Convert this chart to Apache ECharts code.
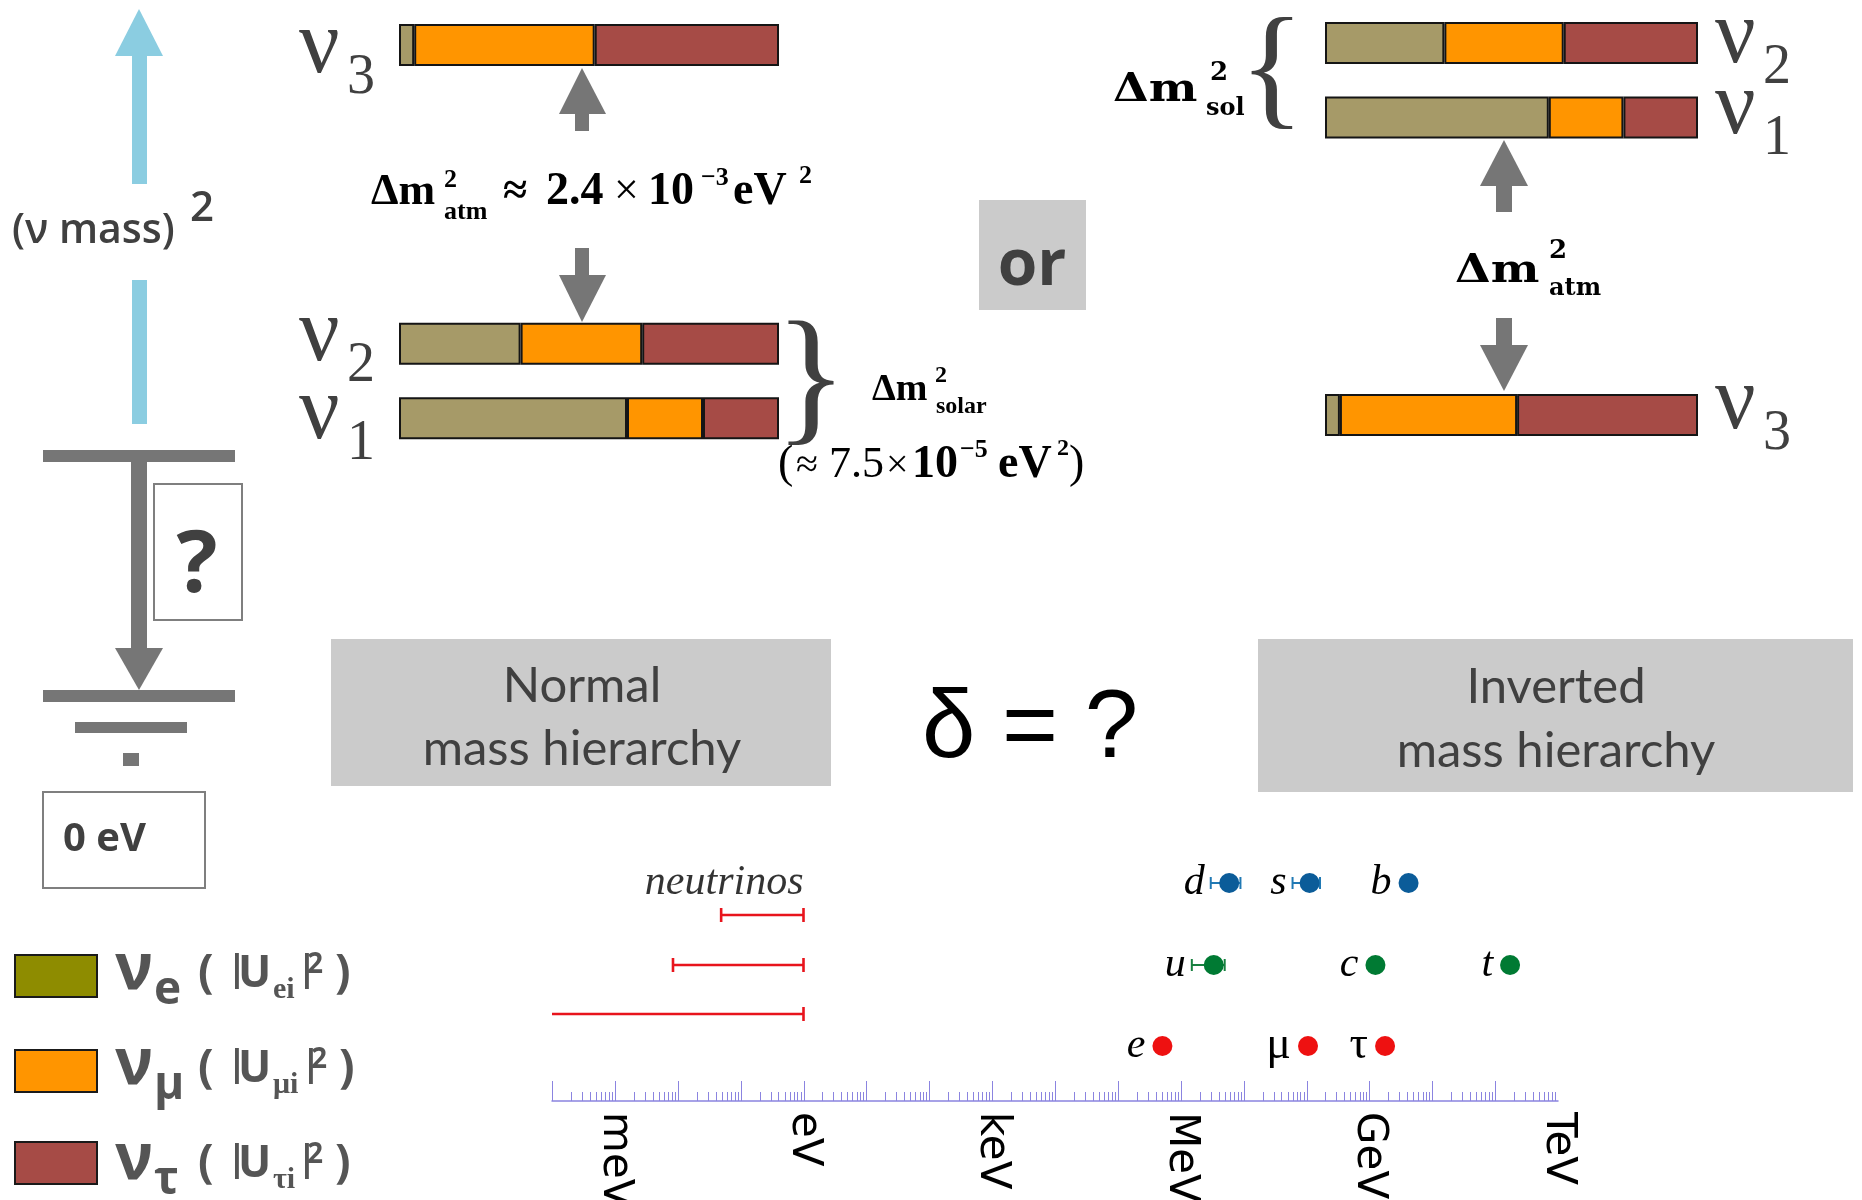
<!DOCTYPE html>
<html><head><meta charset="utf-8">
<script src="https://cdn.jsdelivr.net/npm/echarts@6/dist/echarts.min.js"></script>
<style>html,body{margin:0;padding:0;background:#fff}#c{width:1862px;height:1200px}</style>
</head><body><div id="c"></div>
<script>
// ================= DATA =================
// mixing: |U_fi|^2 for mass states nu1, nu2, nu3
const MASS_STATES = ['ν1', 'ν2', 'ν3'];
const FLAVORS = ['νe', 'νμ', 'ντ'];
const U_E2   = [0.60, 0.32, 0.04];
const U_MU2  = [0.20, 0.32, 0.475];
const U_TAU2 = [0.20, 0.36, 0.485];
// top -> bottom order of mass levels ('' = empty level in the gap)
const NORMAL_ORDER   = ['ν3', '', '', '', 'ν2', 'ν1'];
const INVERTED_ORDER = ['ν2', 'ν1', '', '', '', 'ν3'];

// energy scale (eV): tick labels and tick decades
const UNIT_NAMES = ['meV', 'eV', 'keV', 'MeV', 'GeV', 'TeV'];
const UNIT_EXPONENTS = [-3, 0, 3, 6, 9, 12];
const AXIS_DECADES = [-4, -3, -2, -1, 0, 1, 2, 3, 4, 5, 6, 7, 8, 9, 10, 11];
const MINOR_MULTIPLIERS = [2, 3, 4, 5, 6, 7, 8, 9];

// neutrino mass ranges (eV)
const NU_LOW  = [0.049, 0.0084, 1e-4];
const NU_HIGH = [1, 1, 1];
const NU_ROW  = [7.44, 5.44, 3.48];
const NU_LOW_CAP = [1, 1, 0];

// charged fermion masses (eV)
const PARTICLES     = ['d', 's', 'b', 'u', 'c', 't', 'e', 'μ', 'τ'];
const PARTICLE_MASS = [5.9e6, 1.12e8, 4.2e9, 3.35e6, 1.25e9, 1.73e11, 0.511e6, 1.057e8, 1.777e9];
const PARTICLE_LOW  = [3.0e6, 6.0e7, null, 1.5e6, null, null, null, null, null];
const PARTICLE_HIGH = [8.9e6, 1.64e8, null, 5.0e6, null, null, null, null, null];
const PARTICLE_ROW  = [8.72, 8.72, 8.72, 5.44, 5.44, 5.44, 2.2, 2.2, 2.2];
const PARTICLE_KIND = ['down', 'down', 'down', 'up', 'up', 'up', 'lepton', 'lepton', 'lepton'];

// ================= STYLE =================
const BAR_COLORS = ['#A69A68', '#FF9500', '#A64B46'];
const LEGEND_COLORS = ['#8E8C00', '#FF9500', '#A64B46'];
const DOT_COLOR = {down: '#0B5C99', up: '#007A33', lepton: '#EE1111'};
const ERR_COLOR = {down: '#2079B4', up: '#17803F', lepton: '#EE1111'};
const NU_RED = '#E8141C';
const AXIS_C = '#8B84E0';
const FRACTIONS = [U_E2, U_MU2, U_TAU2];

const K = {'Liberation Serif': 0.263, 'Liberation Sans': 0.276, 'DejaVu Serif': 0.26,
           'DejaVu Sans': 0.26, 'Open Sans': 0.261, 'Lato': 0.305};
function T(x, base, text, o) {
  const fam = o.fam || 'Liberation Serif', size = o.size;
  return {type: 'text', x: x, y: base - K[fam] * size, scaleX: o.sx || 1, z: 20, silent: true,
    style: {text: text, font: (o.it ? 'italic ' : '') + (o.w || 400) + ' ' + size + 'px "' + fam + '"',
      fill: o.c || '#000', textAlign: o.al || 'left', align: o.al || 'left',
      textVerticalAlign: 'middle', verticalAlign: 'middle'}};
}
function R(x, y, w, h, fill, stroke, lw, z) {
  return {type: 'rect', z: z || 5, silent: true, shape: {x: x, y: y, width: w, height: h},
    style: {fill: fill || 'none', stroke: stroke || null, lineWidth: lw || 0}};
}
function P(points, fill) {
  return {type: 'polygon', z: 5, silent: true, shape: {points: points}, style: {fill: fill}};
}

const G = [];
// --- (nu mass)^2 axis arrow
const LB = '#8BCDE1';
G.push(P([[139, 9], [115, 56], [163, 56]], LB), R(132, 56, 15, 128, LB), R(132, 280, 15, 144, LB));
G.push(T(12, 242, '(ν mass)', {size: 41, fam: 'Open Sans', w: 600, c: '#404040'}));
G.push(T(190, 220, '2', {size: 42, fam: 'Open Sans', w: 600, c: '#404040'}));
// --- lightest mass scale
const GR = '#767676';
G.push(R(43, 450, 192, 12, GR), R(131, 462, 16, 187, GR), P([[115, 648], [163, 648], [139, 690]], GR),
       R(43, 690, 192, 12, GR), R(75, 722, 112, 11, GR), R(123, 753, 16, 13, GR));
G.push(R(154, 484, 88, 136, '#fff', '#7F7F7F', 2, 4));
G.push(T(197, 590, '?', {size: 86, fam: 'Open Sans', w: 700, c: '#404040', al: 'center'}));
G.push(R(43, 792, 162, 96, '#fff', '#7F7F7F', 2, 4));
G.push(T(63, 850, '0 eV', {size: 40, fam: 'Open Sans', w: 700, c: '#404040'}));
// --- legend
const LEG_TOP = [955, 1050, 1142], LEG_BASE = [987, 1082, 1177];
const LEG_SUB = ['e', 'μ', 'τ'], LEG_SUB2 = ['ei', 'μi', 'τi'], LEG_DX = [0, 4, 0];
for (let r = 0; r < 3; r++) {
  const B = LEG_BASE[r], dx = LEG_DX[r], LC = '#555555';
  G.push(R(15, LEG_TOP[r], 82, 42, LEGEND_COLORS[r], '#1a1a1a', 2));
  G.push(T(115, B, 'ν', {size: 64, fam: 'Open Sans', w: 700, c: LC}));
  G.push(T(154, B + 16, LEG_SUB[r], {size: 46, fam: 'Open Sans', w: 700, c: LC}));
  G.push(T(198, B - 1, '(', {size: 46, fam: 'Open Sans', w: 700, c: LC}));
  G.push(T(227, B - 8, '|', {size: 36, fam: 'Open Sans', w: 700, c: LC}));
  G.push(T(238, B - 1, 'U', {size: 44, fam: 'Open Sans', w: 700, c: LC}));
  G.push(T(273, B + 11, LEG_SUB2[r], {size: 30, fam: 'Liberation Serif', w: 700, c: LC}));
  G.push(T(297 + dx, B - 8, '|', {size: 36, fam: 'Open Sans', w: 700, c: LC}));
  G.push(T(307 + dx, B - 15, '2', {size: 28, fam: 'Open Sans', w: 700, c: LC}));
  G.push(T(335 + dx, B - 1, ')', {size: 46, fam: 'Open Sans', w: 700, c: LC}));
}
// --- nu labels
const NUC = '#404040';
function nuLabel(x, base, name) {
  G.push(T(x, base, 'ν', {size: 90, c: NUC}));
  G.push(T(x + 48, base + 21, name.slice(1), {size: 56, c: NUC}));
}
nuLabel(299, 72, 'ν3'); nuLabel(299, 360, 'ν2'); nuLabel(299, 438, 'ν1');
nuLabel(1715, 62, 'ν2'); nuLabel(1715, 133, 'ν1'); nuLabel(1715, 428, 'ν3');
// --- arrows
G.push(P([[582, 68], [559, 114], [606, 114]], GR), R(575, 113, 14, 18, GR));
G.push(R(575, 248, 14, 28, GR), P([[559, 275], [606, 275], [582, 322]], GR));
G.push(P([[1504, 140], [1480, 186], [1528, 186]], GR), R(1496, 185, 16, 27, GR));
G.push(R(1496, 318, 16, 28, GR), P([[1480, 345], [1528, 345], [1504, 391]], GR));
// --- normal ordering texts
G.push(T(371, 204, 'Δm', {size: 44, w: 700}), T(444, 187, '2', {size: 26, w: 700}), T(444, 219, 'atm', {size: 26, w: 700}));
G.push(T(503, 204, '≈', {size: 44, w: 700}), T(546, 204, '2.4', {size: 46, w: 700}), T(614, 204, '×', {size: 44}),
       T(648, 204, '10', {size: 46, w: 700}), T(701, 185, '−3', {size: 26, w: 700}),
       T(733, 204, 'eV', {size: 46, w: 700}), T(799, 183, '2', {size: 26, w: 700}));
G.push(T(811, 425, '}', {size: 151, c: '#404040', al: 'center'}));
G.push(T(872, 400, 'Δm', {size: 38, w: 700}), T(935, 382, '2', {size: 24, w: 700}), T(936, 413, 'solar', {size: 24, w: 700}));
G.push(T(778, 477, '(', {size: 46}), T(796, 477, '≈', {size: 40}), T(829, 477, '7.5', {size: 44}),
       T(886, 477, '×', {size: 40}), T(912, 477, '10', {size: 46, w: 700}), T(960, 457, '−5', {size: 26, w: 700}),
       T(998, 477, 'eV', {size: 46, w: 700}), T(1057, 455, '2', {size: 24, w: 700}), T(1069, 477, ')', {size: 46}));
// --- inverted ordering texts
G.push(T(1272, 111, '{', {size: 136, c: '#404040', al: 'center'}));
G.push(T(1113, 101, 'Δm', {size: 40, fam: 'DejaVu Serif', w: 700, sx: 1.15}),
       T(1210, 80, '2', {size: 26, fam: 'DejaVu Serif', w: 700}),
       T(1206, 115, 'sol', {size: 24, fam: 'DejaVu Serif', w: 700}));
G.push(T(1455, 282, 'Δm', {size: 40, fam: 'DejaVu Serif', w: 700, sx: 1.15}),
       T(1549, 258, '2', {size: 26, fam: 'DejaVu Serif', w: 700}),
       T(1549, 295, 'atm', {size: 24, fam: 'DejaVu Serif', w: 700}));
// --- boxes
const BOX = '#CBCBCB';
G.push(R(979, 200, 107, 110, BOX, null, 0, 2), T(1032, 283, 'or', {size: 64, fam: 'Open Sans', w: 700, c: '#404040', al: 'center'}));
G.push(R(331, 639, 500, 147, BOX, null, 0, 2), T(582, 701, 'Normal', {size: 49, fam: 'Lato', c: '#404040', al: 'center'}),
       T(582, 764, 'mass hierarchy', {size: 49, fam: 'Lato', c: '#404040', al: 'center'}));
G.push(R(1258, 639, 595, 153, BOX, null, 0, 2), T(1556, 702, 'Inverted', {size: 49, fam: 'Lato', c: '#404040', al: 'center'}),
       T(1556, 766, 'mass hierarchy', {size: 49, fam: 'Lato', c: '#404040', al: 'center'}));
G.push(T(1030, 757, 'δ = ?', {size: 96, fam: 'Liberation Sans', c: '#000', al: 'center'}));

// ================= SERIES =================
function barSeries(gi, order) {
  return FLAVORS.map(function (f, fi) {
    return {type: 'bar', name: f, xAxisIndex: gi, yAxisIndex: gi, stack: 'mix' + gi, barWidth: 42, silent: true,
      data: order.map(function (s) { return s ? FRACTIONS[fi][MASS_STATES.indexOf(s)] : null; }),
      itemStyle: {color: BAR_COLORS[fi], borderColor: '#151515', borderWidth: 2}};
  });
}
const series = [].concat(barSeries(0, NORMAL_ORDER), barSeries(1, INVERTED_ORDER));

// energy-axis ticks (major at each decade, minor at 2..9 x decade)
const TICKS = [];
AXIS_DECADES.forEach(function (d) {
  TICKS.push([Math.pow(10, d), 0, 1]);
  MINOR_MULTIPLIERS.forEach(function (m) { TICKS.push([m * Math.pow(10, d), 0, 0]); });
});
series.push({type: 'custom', xAxisIndex: 2, yAxisIndex: 2, silent: true, clip: false, z: 1,
  encode: {x: 0, y: 1}, data: TICKS,
  renderItem: function (params, api) {
    const p = api.coord([api.value(0), 0]);
    const x = Math.round(p[0]) + 0.5, len = api.value(2) ? 20 : 9;
    return {type: 'line', shape: {x1: x, y1: p[1], x2: x, y2: p[1] - len},
      style: {stroke: AXIS_C, lineWidth: 1}};
  }});
// energy-axis unit labels
series.push({type: 'custom', xAxisIndex: 2, yAxisIndex: 2, silent: true, clip: false, z: 1,
  encode: {x: 0, y: 1},
  data: UNIT_EXPONENTS.map(function (e) { return [Math.pow(10, e), 0]; }),
  renderItem: function (params, api) {
    const p = api.coord([api.value(0), 0]);
    return {type: 'text', x: p[0], y: p[1] + 11, rotation: -Math.PI / 2,
      style: {text: UNIT_NAMES[params.dataIndex], font: '42px "DejaVu Sans"', fill: '#000',
        textAlign: 'left', align: 'left', textVerticalAlign: 'middle', verticalAlign: 'middle'}};
  }});

// neutrino mass ranges
series.push({type: 'custom', xAxisIndex: 2, yAxisIndex: 2, silent: true, clip: false, z: 2,
  encode: {x: [0, 1], y: 2},
  data: NU_LOW.map(function (lo, i) { return [lo, NU_HIGH[i], NU_ROW[i], NU_LOW_CAP[i]]; }),
  renderItem: function (params, api) {
    const a = api.coord([api.value(0), api.value(2)]), b = api.coord([api.value(1), api.value(2)]);
    const st = {stroke: NU_RED, lineWidth: 2.6};
    const ch = [{type: 'line', shape: {x1: a[0], y1: a[1], x2: b[0], y2: b[1]}, style: st},
                {type: 'line', shape: {x1: b[0], y1: b[1] - 7, x2: b[0], y2: b[1] + 7}, style: st}];
    if (api.value(3)) ch.push({type: 'line', shape: {x1: a[0], y1: a[1] - 7, x2: a[0], y2: a[1] + 7}, style: st});
    return {type: 'group', children: ch};
  }});
// 'neutrinos' label
series.push({type: 'scatter', xAxisIndex: 2, yAxisIndex: 2, silent: true, symbolSize: 0, z: 3,
  data: [{name: 'neutrinos', value: [NU_HIGH[0], PARTICLE_ROW[0]]}],
  label: {show: true, position: 'left', distance: 0, formatter: '{b}', fontFamily: 'Liberation Serif',
    fontStyle: 'italic', fontSize: 42, color: '#000'}});
// quark error bars (with their labels)
const ERR_IDX = PARTICLES.map(function (p, i) { return i; }).filter(function (i) { return PARTICLE_LOW[i] != null; });
series.push({type: 'custom', xAxisIndex: 2, yAxisIndex: 2, silent: true, clip: false, z: 2,
  encode: {x: [0, 1], y: 2},
  data: ERR_IDX.map(function (i) { return [PARTICLE_LOW[i], PARTICLE_HIGH[i], PARTICLE_ROW[i], i]; }),
  renderItem: function (params, api) {
    const i = api.value(3);
    const a = api.coord([api.value(0), api.value(2)]), b = api.coord([api.value(1), api.value(2)]);
    const st = {stroke: ERR_COLOR[PARTICLE_KIND[i]], lineWidth: 2};
    return {type: 'group', children: [
      {type: 'line', shape: {x1: a[0], y1: a[1], x2: b[0], y2: b[1]}, style: st},
      {type: 'line', shape: {x1: a[0], y1: a[1] - 6, x2: a[0], y2: a[1] + 6}, style: st},
      {type: 'line', shape: {x1: b[0], y1: b[1] - 6, x2: b[0], y2: b[1] + 6}, style: st},
      {type: 'text', x: a[0] - 6, y: a[1], style: {text: PARTICLES[i], font: 'italic 42px "Liberation Serif"',
        fill: '#000', textAlign: 'right', align: 'right', textVerticalAlign: 'middle', verticalAlign: 'middle'}}
    ]};
  }});
// particle masses
const GREEK = /[α-ω]/;
series.push({type: 'scatter', xAxisIndex: 2, yAxisIndex: 2, silent: true, symbolSize: 20, z: 4,
  data: PARTICLES.map(function (p, i) {
    return {name: p, value: [PARTICLE_MASS[i], PARTICLE_ROW[i]],
      itemStyle: {color: DOT_COLOR[PARTICLE_KIND[i]], opacity: 1},
      label: {show: PARTICLE_LOW[i] == null, fontStyle: GREEK.test(p) ? 'normal' : 'italic',
        fontSize: GREEK.test(p) ? 46 : 42}};
  }),
  label: {position: 'left', distance: 7, formatter: '{b}', fontFamily: 'Liberation Serif',
    fontStyle: 'italic', fontSize: 42, color: '#000'}});

const option = {
  animation: false,
  backgroundColor: '#fff',
  grid: [
    {left: 399, width: 380, top: 7.7, height: 448, containLabel: false, outerBoundsMode: 'none'},
    {left: 1325, width: 373, top: 5.8, height: 446.4, containLabel: false, outerBoundsMode: 'none'},
    {left: 552, width: 1006, top: 851, height: 250, containLabel: false, outerBoundsMode: 'none'}
  ],
  xAxis: [
    {gridIndex: 0, type: 'value', min: 0, max: 1, show: false},
    {gridIndex: 1, type: 'value', min: 0, max: 1, show: false},
    {gridIndex: 2, type: 'log', logBase: 10, min: 1e-4, max: 1e12,
      axisLine: {show: true, lineStyle: {color: AXIS_C, width: 1.5}},
      axisTick: {show: false}, minorTick: {show: false},
      splitLine: {show: false}, minorSplitLine: {show: false},
      axisLabel: {show: false}}
  ],
  yAxis: [
    {gridIndex: 0, type: 'category', inverse: true, show: false,
      data: NORMAL_ORDER.map(function (s, i) { return s || 'gap' + i; })},
    {gridIndex: 1, type: 'category', inverse: true, show: false,
      data: INVERTED_ORDER.map(function (s, i) { return s || 'gap' + i; })},
    {gridIndex: 2, type: 'value', min: 0, max: 10, show: false}
  ],
  series: series,
  graphic: {elements: G}
};
const chart = echarts.init(document.getElementById('c'), null, {renderer: 'canvas', width: 1862, height: 1200});
chart.setOption(option);
</script>
</body></html>
